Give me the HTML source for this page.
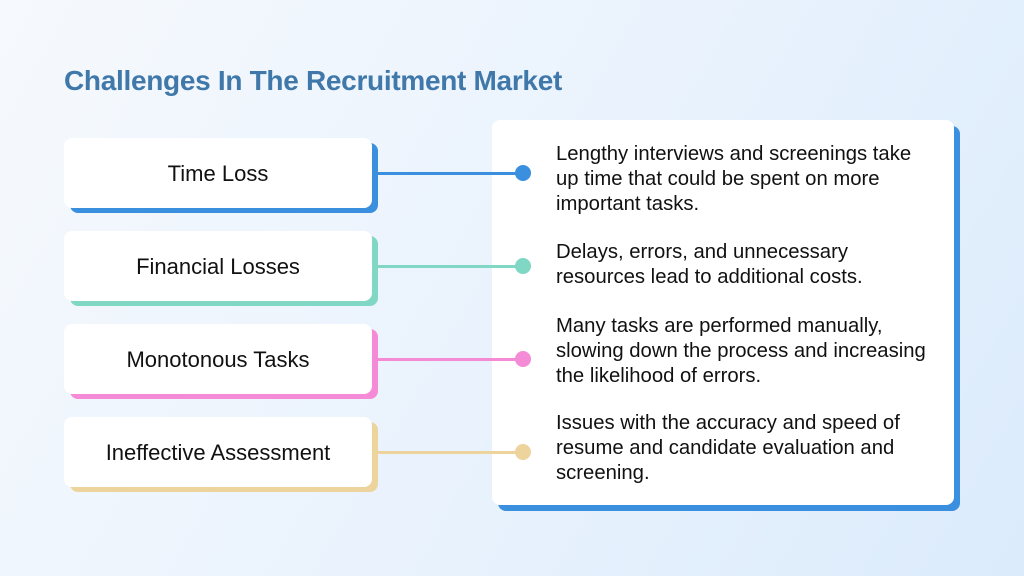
<!DOCTYPE html>
<html><head><style>
body{margin:0;width:1024px;height:576px;overflow:hidden;font-family:"Liberation Sans",sans-serif;
background:linear-gradient(120deg,#f6f9fd 0%,#eaf3fd 50%,#dbebfc 100%);position:relative}
.t{position:absolute;left:64px;top:65px;font-size:28px;font-weight:bold;color:#3f78a9;letter-spacing:-0.3px;white-space:nowrap}
.b{position:absolute;left:64px;width:308px;height:70px;background:#fff;border-radius:8px;font-size:22px;color:#111;display:flex;align-items:center;justify-content:center;padding-top:2px;box-sizing:border-box}
.s{position:absolute;left:70px;width:308px;height:70px;border-radius:8px}
.l{position:absolute;left:378px;width:145px;height:3px}
.d{position:absolute;left:515px;width:16px;height:16px;border-radius:50%}
.p{position:absolute;left:492px;top:120px;width:462px;height:385px;background:#fff;border-radius:8px}
.ps{position:absolute;left:498px;top:126px;width:462px;height:385px;background:#3a8fdf;border-radius:8px}
.x{position:absolute;left:556px;font-size:20.3px;line-height:25px;color:#111;white-space:nowrap}
</style></head><body>
<div class="t">Challenges In The Recruitment Market</div>
<div class="ps"></div><div class="p"></div>

<div class="s" style="top:143px;background:#3a8fdf"></div><div class="b" style="top:138px">Time Loss</div>
<div class="s" style="top:236px;background:#7fd7c4"></div><div class="b" style="top:231px">Financial Losses</div>
<div class="s" style="top:329px;background:#f58ad6"></div><div class="b" style="top:324px">Monotonous Tasks</div>
<div class="s" style="top:422px;background:#edd39c"></div><div class="b" style="top:417px">Ineffective Assessment</div>

<div class="l" style="top:172px;background:#3a8fdf"></div><div class="d" style="top:165px;background:#3a8fdf"></div>
<div class="l" style="top:265px;background:#7fd7c4"></div><div class="d" style="top:258px;background:#7fd7c4"></div>
<div class="l" style="top:358px;background:#f58ad6"></div><div class="d" style="top:351px;background:#f58ad6"></div>
<div class="l" style="top:451px;background:#edd39c"></div><div class="d" style="top:444px;background:#edd39c"></div>

<div class="x" style="top:142px">Lengthy interviews and screenings take<br>up time that could be spent on more<br>important tasks.</div>
<div class="x" style="top:240px">Delays, errors, and unnecessary<br>resources lead to additional costs.</div>
<div class="x" style="top:314px">Many tasks are performed manually,<br>slowing down the process and increasing<br>the likelihood of errors.</div>
<div class="x" style="top:411px">Issues with the accuracy and speed of<br>resume and candidate evaluation and<br>screening.</div>
</body></html>
